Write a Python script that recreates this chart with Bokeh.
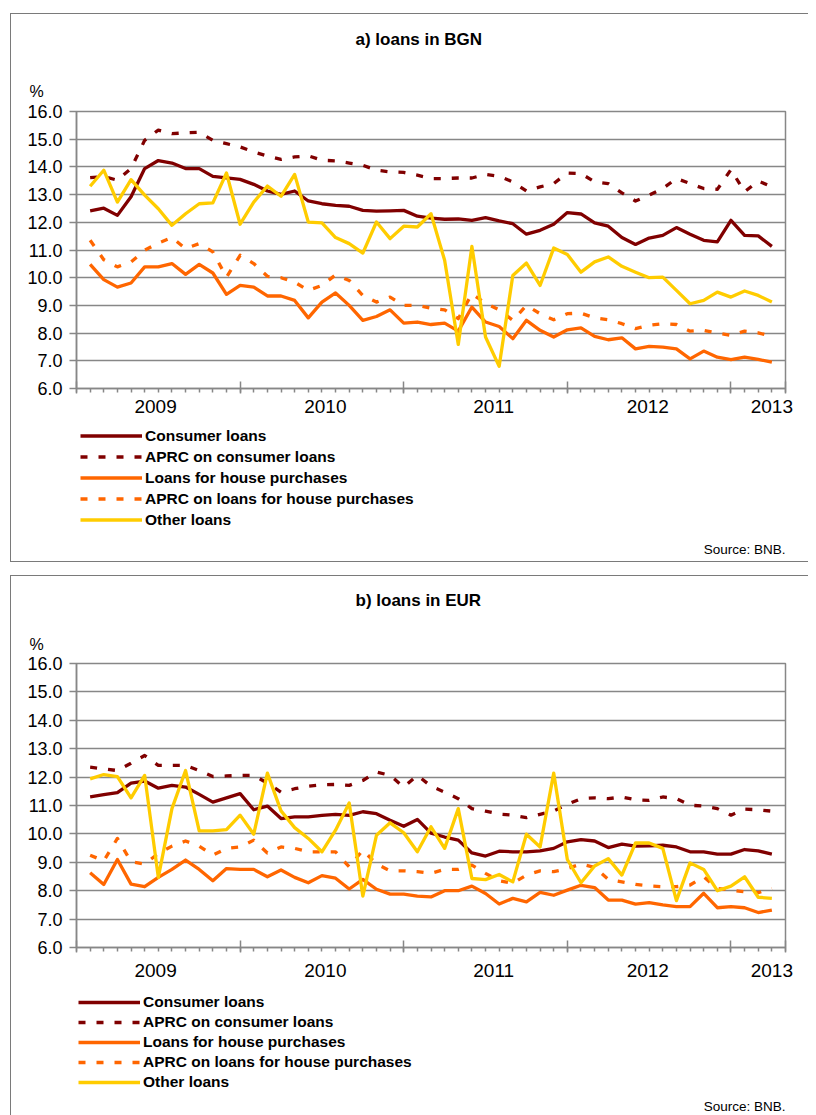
from bokeh.plotting import figure
from bokeh.models import (Range1d, LinearAxis, FixedTicker, NumeralTickFormatter,
                          Label, Legend, LegendItem, Grid, Spacer, Title)
from bokeh.layouts import column
from bokeh.embed import file_html
from bokeh.resources import INLINE

# ---------------- data (monthly, Jan 2009 - Mar 2013) ----------------
years = [2009, 2010, 2011, 2012, 2013]
month_names = ["Jan", "Feb", "Mar", "Apr", "May", "Jun", "Jul", "Aug", "Sep", "Oct", "Nov", "Dec"]
months = [f"{m} {y}" for y in years for m in month_names][:51]
x_idx = list(range(1, len(months) + 1))

series_names = ["Consumer loans", "APRC on consumer loans", "Loans for house purchases",
                "APRC on loans for house purchases", "Other loans"]

bgn_consumer = [12.41, 12.51, 12.25, 12.92, 13.94, 14.23, 14.14, 13.94, 13.94, 13.66,
                13.60, 13.55, 13.37, 13.13, 13.01, 13.13, 12.77, 12.67, 12.61, 12.58,
                12.43, 12.40, 12.41, 12.43, 12.22, 12.15, 12.11, 12.12, 12.07, 12.17,
                12.05, 11.95, 11.57, 11.71, 11.93, 12.35, 12.30, 11.98, 11.86, 11.45,
                11.20, 11.43, 11.53, 11.81, 11.57, 11.35, 11.29, 12.07, 11.53, 11.51, 11.13]
bgn_aprc_consumer = [13.61, 13.65, 13.52, 13.94, 14.96, 15.33, 15.20, 15.23, 15.25, 14.96,
                     14.84, 14.72, 14.54, 14.39, 14.27, 14.36, 14.40, 14.24, 14.22, 14.14,
                     14.06, 13.88, 13.82, 13.80, 13.70, 13.58, 13.58, 13.60, 13.60, 13.73,
                     13.66, 13.46, 13.13, 13.28, 13.40, 13.78, 13.76, 13.46, 13.40, 13.06,
                     12.77, 12.98, 13.22, 13.58, 13.40, 13.22, 13.19, 13.90, 13.10, 13.49, 13.28]
bgn_house = [10.48, 9.93, 9.66, 9.81, 10.39, 10.39, 10.51, 10.12, 10.48, 10.17,
             9.40, 9.72, 9.66, 9.34, 9.34, 9.18, 8.55, 9.12, 9.45, 9.00,
             8.46, 8.60, 8.84, 8.36, 8.40, 8.31, 8.36, 8.07, 8.94, 8.40,
             8.24, 7.80, 8.46, 8.10, 7.86, 8.12, 8.19, 7.88, 7.76, 7.83,
             7.43, 7.52, 7.49, 7.43, 7.07, 7.35, 7.13, 7.04, 7.13, 7.05, 6.95]
bgn_aprc_house = [11.35, 10.65, 10.39, 10.57, 10.99, 11.25, 11.45, 11.05, 11.23, 10.93,
                  10.02, 10.81, 10.51, 10.05, 10.00, 9.84, 9.54, 9.72, 10.10, 9.90,
                  9.36, 9.12, 9.30, 9.00, 9.00, 8.90, 8.84, 8.52, 9.42, 9.08,
                  8.84, 8.46, 9.00, 8.70, 8.48, 8.70, 8.72, 8.55, 8.48, 8.34,
                  8.16, 8.28, 8.34, 8.31, 8.07, 8.10, 8.00, 7.92, 8.07, 8.01, 7.88]
bgn_other = [13.30, 13.88, 12.73, 13.54, 12.98, 12.49, 11.89, 12.31, 12.67, 12.70,
             13.78, 11.93, 12.73, 13.31, 12.94, 13.73, 12.01, 11.98, 11.45, 11.23,
             10.89, 12.01, 11.41, 11.86, 11.83, 12.31, 10.63, 7.59, 11.13, 7.86,
             6.80, 10.08, 10.53, 9.72, 11.07, 10.84, 10.20, 10.57, 10.75, 10.41,
             10.20, 10.00, 10.02, 9.54, 9.06, 9.18, 9.48, 9.30, 9.52, 9.36, 9.12]

eur_consumer = [11.30, 11.38, 11.45, 11.79, 11.86, 11.61, 11.71, 11.65, 11.39, 11.12,
                11.27, 11.42, 10.85, 10.98, 10.54, 10.60, 10.60, 10.65, 10.69, 10.65,
                10.78, 10.71, 10.48, 10.27, 10.51, 10.03, 9.89, 9.78, 9.33, 9.22,
                9.39, 9.37, 9.37, 9.40, 9.49, 9.72, 9.80, 9.75, 9.52, 9.64,
                9.57, 9.58, 9.60, 9.54, 9.37, 9.37, 9.29, 9.29, 9.45, 9.40, 9.29]
eur_aprc_consumer = [12.35, 12.29, 12.23, 12.49, 12.76, 12.41, 12.41, 12.41, 12.23, 12.02,
                     12.04, 12.06, 12.06, 11.79, 11.47, 11.59, 11.68, 11.73, 11.74, 11.71,
                     11.88, 12.18, 12.06, 11.65, 12.06, 11.68, 11.47, 11.24, 10.89, 10.80,
                     10.70, 10.66, 10.57, 10.69, 10.81, 11.04, 11.24, 11.27, 11.24, 11.30,
                     11.20, 11.18, 11.30, 11.24, 11.01, 10.98, 10.89, 10.66, 10.87, 10.85, 10.80]
eur_house = [8.63, 8.22, 9.10, 8.23, 8.14, 8.47, 8.75, 9.08, 8.75, 8.35,
             8.78, 8.75, 8.75, 8.49, 8.73, 8.47, 8.28, 8.53, 8.44, 8.06,
             8.40, 8.05, 7.88, 7.88, 7.81, 7.78, 8.00, 8.00, 8.16, 7.90,
             7.53, 7.73, 7.61, 7.94, 7.84, 8.02, 8.19, 8.11, 7.67, 7.67,
             7.53, 7.58, 7.50, 7.44, 7.44, 7.91, 7.40, 7.44, 7.40, 7.23, 7.32]
eur_aprc_house = [9.25, 9.05, 9.84, 9.02, 8.94, 9.31, 9.57, 9.75, 9.57, 9.25,
                  9.49, 9.54, 9.78, 9.33, 9.54, 9.49, 9.37, 9.37, 9.37, 8.84,
                  9.43, 8.94, 8.70, 8.70, 8.67, 8.61, 8.75, 8.75, 8.90, 8.61,
                  8.35, 8.26, 8.55, 8.70, 8.67, 8.78, 8.94, 8.82, 8.40, 8.31,
                  8.22, 8.17, 8.14, 8.14, 8.20, 8.49, 8.08, 8.02, 7.96, 7.93, 8.08]
eur_other = [11.94, 12.09, 12.02, 11.27, 12.06, 8.47, 10.89, 12.23, 10.11, 10.11,
             10.15, 10.66, 9.99, 12.14, 10.81, 10.22, 9.84, 9.37, 10.13, 11.09,
             7.81, 9.95, 10.39, 10.04, 9.37, 10.25, 9.49, 10.89, 8.43, 8.39,
             8.57, 8.31, 9.99, 9.54, 12.14, 9.10, 8.28, 8.87, 9.13, 8.55,
             9.68, 9.68, 9.49, 7.65, 8.98, 8.75, 8.00, 8.16, 8.49, 7.77, 7.73]

y_ticks = [6, 7, 8, 9, 10, 11, 12, 13, 14, 15, 16]
year_bounds = [0, 12, 24, 36, 48, 52]
year_label_pos = [5.8, 18.25, 30.6, 41.9, 51.0]
year_labels = ["2009", "2010", "2011", "2012", "2013"]
source_text = "Source: BNB."

# ---------------- styling ----------------
FONT = "Liberation Sans"
GRAY = "#878787"
BORDER = "1px solid #7a7a7a"
DARK_RED = "#800000"
ORANGE = "#FF6600"
YELLOW = "#FFCC00"
line_styles = [(DARK_RED, "solid"), (DARK_RED, "7 11"), (ORANGE, "solid"),
               (ORANGE, "7 11"), (YELLOW, "solid")]
W = 798
LEFT = 65
RIGHT = 24


def text_fig(height, css):
    """Figure used only for titles / legend / notes (its ranges show no data)."""
    f = figure(width=W, height=height, output_backend="svg", toolbar_location=None,
               x_range=Range1d(-2, -1), y_range=Range1d(-2, -1),
               x_axis_type=None, y_axis_type=None,
               min_border_left=LEFT, min_border_right=RIGHT, min_border_top=0, min_border_bottom=0,
               outline_line_color=None, background_fill_color="white",
               border_fill_color="white", styles=css)
    return f


def header(title, height, title_y, css):
    h = text_fig(height, css)
    h.add_layout(Label(x=279, y=title_y, x_units="screen", y_units="screen", text=title,
                       text_font=FONT, text_font_style="bold", text_font_size="17px",
                       text_align="left", text_baseline="middle", text_color="black"))
    return h


def chart(data, height, top, bottom, pct_standoff, lab_standoff, css):
    p = figure(width=W, height=height, output_backend="svg", toolbar_location=None,
               x_range=Range1d(0, 52), y_range=Range1d(6, 16),
               x_axis_type=None, y_axis_type=None,
               min_border_left=LEFT, min_border_right=RIGHT,
               min_border_top=top, min_border_bottom=bottom,
               background_fill_color="white", border_fill_color="white",
               outline_line_color=GRAY, outline_line_width=1.5, styles=css)
    # unit label above the y axis
    p.add_layout(Title(text="%", align="left", offset=-47, standoff=pct_standoff,
                       vertical_align="bottom", text_font=FONT, text_font_size="16px",
                       text_font_style="normal", text_color="black"), "above")
    yax = LinearAxis(ticker=FixedTicker(ticks=y_ticks),
                     formatter=NumeralTickFormatter(format="0.0"),
                     axis_line_color=GRAY, axis_line_width=1.5,
                     major_tick_line_color=GRAY, major_tick_line_width=1.5,
                     major_tick_in=0, major_tick_out=7, minor_tick_line_color=None,
                     major_label_standoff=7, major_label_text_font=FONT,
                     major_label_text_font_size="18px", major_label_text_color="black")
    p.add_layout(yax, "left")
    p.add_layout(Grid(dimension=1, ticker=FixedTicker(ticks=y_ticks),
                      grid_line_color=GRAY, grid_line_width=1.5))
    xax_ticks = LinearAxis(ticker=FixedTicker(ticks=year_bounds, minor_ticks=x_idx + [0, 52]),
                           axis_line_color=GRAY, axis_line_width=1.5,
                           major_tick_line_color=GRAY, major_tick_line_width=1.5,
                           major_tick_in=7, major_tick_out=5,
                           minor_tick_line_color=GRAY, minor_tick_line_width=1.5,
                           minor_tick_in=0, minor_tick_out=4,
                           major_label_text_font_size="0px", major_label_standoff=0,
                           major_label_text_alpha=0)
    p.add_layout(xax_ticks, "below")
    xax_labels = LinearAxis(ticker=FixedTicker(ticks=year_label_pos, minor_ticks=[]),
                            major_label_overrides=dict(zip(year_label_pos, year_labels)),
                            axis_line_color=None, major_tick_line_color=None,
                            minor_tick_line_color=None, major_tick_in=0, major_tick_out=0,
                            major_label_standoff=lab_standoff, major_label_text_font=FONT,
                            major_label_text_font_size="19px", major_label_text_color="black")
    p.add_layout(xax_labels, "below")
    for ys, (col, dash) in zip(data, line_styles):
        p.line(x=x_idx, y=ys, line_color=col, line_width=3.3, line_dash=dash,
               line_join="round", line_cap="butt")
    return p


def legend_fig(data, height, row_h, leg_x, leg_y, src_y, css):
    f = text_fig(height, css)
    items = []
    for name, ys, (col, dash) in zip(series_names, data, line_styles):
        # same series; this figure's ranges keep the lines out of view, only the legend shows
        r = f.line(x=x_idx, y=ys, line_color=col, line_width=3.3, line_dash=dash)
        items.append(LegendItem(label=name, renderers=[r]))
    f.add_layout(Legend(items=items, location=(leg_x, leg_y), orientation="vertical",
                        border_line_color=None, background_fill_alpha=0,
                        padding=0, margin=0, spacing=0,
                        glyph_width=62, glyph_height=row_h, label_height=row_h,
                        label_standoff=3, label_text_font=FONT, label_text_font_style="bold",
                        label_text_font_size="15.5px", label_text_color="black"))
    f.add_layout(Label(x=W - LEFT - RIGHT, y=src_y, x_units="screen", y_units="screen",
                       text=source_text, text_font=FONT, text_font_size="13.5px",
                       text_align="right", text_baseline="middle", text_color="black"))
    return f


bgn = [bgn_consumer, bgn_aprc_consumer, bgn_house, bgn_aprc_house, bgn_other]
eur = [eur_consumer, eur_aprc_consumer, eur_house, eur_aprc_house, eur_other]

# ---------------- panel a: loans in BGN ----------------
ha = header("a) loans in BGN", 52, title_y=26.7,
            css={"border-top": BORDER, "border-left": BORDER})
ca = chart(bgn, height=355, top=46, bottom=32, pct_standoff=24, lab_standoff=6,
           css={"border-left": BORDER})
la = legend_fig(bgn, 142, row_h=21, leg_x=4, leg_y=32, src_y=13,
                css={"border-left": BORDER, "border-bottom": BORDER})

# ---------------- panel b: loans in EUR ----------------
hb = header("b) loans in EUR", 44, title_y=20,
            css={"border-top": BORDER, "border-left": BORDER})
cb = chart(eur, height=366, top=44, bottom=38, pct_standoff=22, lab_standoff=11,
           css={"border-left": BORDER})
lb = legend_fig(eur, 130, row_h=20, leg_x=2, leg_y=23.5, src_y=9,
                css={"border-left": BORDER})

layout = column(ha, ca, la, Spacer(width=W, height=13), hb, cb, lb,
                spacing=0, margin=(13, 0, 0, 10))

open("out.html", "w").write(file_html(layout, INLINE))
